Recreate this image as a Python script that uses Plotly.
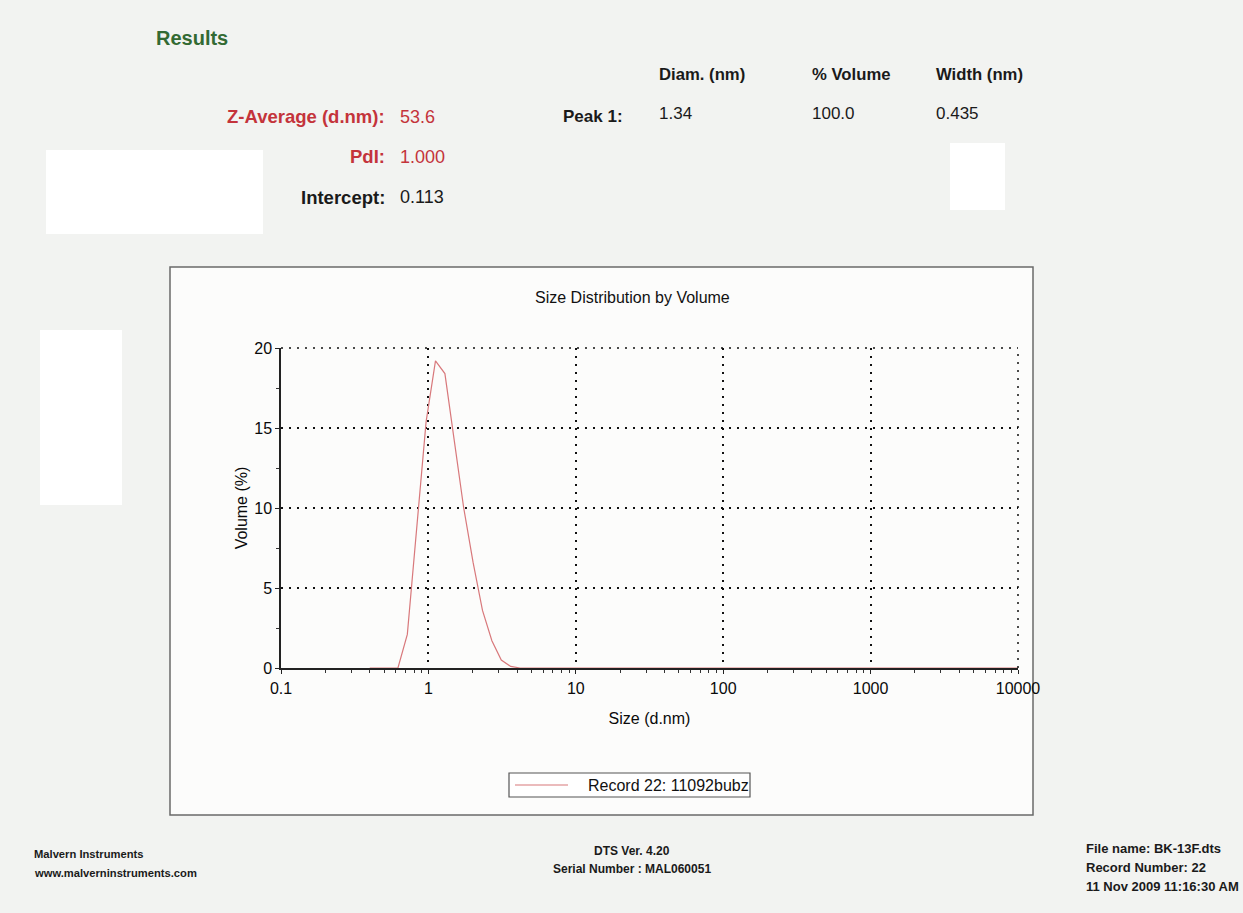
import plotly.graph_objects as go

# ---- measurement data -------------------------------------------------------
size_nm = [0.4, 0.4632, 0.5365, 0.6213, 0.7195, 0.8332, 0.9649, 1.117, 1.294, 1.499,
           1.736, 2.01, 2.328, 2.696, 3.122, 3.615, 4.187, 4.849, 5.615, 6.503,
           7.531, 8.721, 10.1, 11.7, 13.54, 15.69, 18.17, 21.04, 24.36, 28.21,
           32.67, 37.84, 43.82, 50.75, 58.77, 68.06, 78.82, 91.28, 105.7, 122.4,
           141.8, 164.2, 190.1, 220.2, 255.0, 295.3, 342.0, 396.1, 458.7, 531.2,
           615.1, 712.4, 825.0, 955.4, 1106, 1281, 1484, 1718, 1990, 2305,
           2669, 3091, 3580, 4145, 4801, 5560, 6439, 7456, 8635, 10000]
volume_pct = [0, 0, 0, 0, 2.1, 8.8, 15.4, 19.2, 18.4, 14.2,
              10.0, 6.6, 3.6, 1.7, 0.5, 0.1, 0, 0, 0, 0,
              0, 0, 0, 0, 0, 0, 0, 0, 0, 0,
              0, 0, 0, 0, 0, 0, 0, 0, 0, 0,
              0, 0, 0, 0, 0, 0, 0, 0, 0, 0,
              0, 0, 0, 0, 0, 0, 0, 0, 0, 0,
              0, 0, 0, 0, 0, 0, 0, 0, 0, 0]
record_name = "Record 22: 11092bubz"

x_tick_vals = [0.1, 1, 10, 100, 1000, 10000]
x_tick_text = ["0.1", "1", "10", "100", "1000", "10000"]
x_minor_vals = [m * d for d in [0.1, 1, 10, 100, 1000] for m in range(2, 10)]
y_tick_vals = [0, 5, 10, 15, 20]

# header results
result_labels = ["Z-Average (d.nm):", "PdI:", "Intercept:"]
result_values = ["53.6", "1.000", "0.113"]
result_colors = ["#c4333b", "#c4333b", "#1a1a1a"]
peak_headers = ["Diam. (nm)", "% Volume", "Width (nm)"]
peak_row_label = "Peak 1:"
peak_values = ["1.34", "100.0", "0.435"]

footer_left = ["Malvern Instruments", "www.malverninstruments.com"]
footer_mid = ["DTS Ver. 4.20", "Serial Number : MAL060051"]
footer_right = ["File name: BK-13F.dts", "Record Number: 22", "11 Nov 2009 11:16:30 AM"]

# ---- page geometry (pixels) -------------------------------------------------
W, H = 1243, 913
FONT = "Liberation Sans, Arial, sans-serif"
CURVE_COLOR = "#d8787b"


def fx(px):
    return px / W


def fy(py):
    return 1 - py / H


fig = go.Figure()
fig.add_trace(go.Scatter(
    x=size_nm, y=volume_pct, mode="lines", name=record_name,
    line=dict(color=CURVE_COLOR, width=1.2), showlegend=False,
))

ann = []


def text(px, py, s, size=16, color="#1a1a1a", bold=False, xanchor="left"):
    ann.append(dict(
        x=fx(px), y=fy(py), xref="paper", yref="paper", showarrow=False,
        text=f"<b>{s}</b>" if bold else s, xanchor=xanchor, yanchor="middle",
        font=dict(family=FONT, size=size, color=color), borderpad=0,
    ))


text(155, 38, "Results", size=20, color="#336a33", bold=True)
for i, (lab, val, col) in enumerate(zip(result_labels, result_values, result_colors)):
    yy = 117 + 40 * i
    text(386, yy, lab, size=18.5, color=col, bold=True, xanchor="right")
    text(399, yy, val, size=18, color=col)

for hx, h in zip([658, 811, 935], peak_headers):
    text(hx, 75, h, size=16.7, bold=True)
text(562, 116, peak_row_label, size=17, bold=True)
for vx, v in zip([658, 811, 935], peak_values):
    text(vx, 113, v, size=17)

text(632, 297, "Size Distribution by Volume", size=16, color="#111111", xanchor="center")

for i, s in enumerate(footer_left):
    text(33, 854 + 19 * i, s, size=11.2, bold=True)
for i, s in enumerate(footer_mid):
    text(632, 851 + 18 * i, s, size=12, bold=True, xanchor="center")
for i, s in enumerate(footer_right):
    text(1085, 848 + 19 * i, s, size=13, bold=True)

# legend box for the record
text(587, 785, record_name, size=16, color="#111111")

grid_dash = "2px,6px"
shapes = [
    # chart frame
    dict(type="rect", xref="paper", yref="paper", x0=fx(170), x1=fx(1033), y0=fy(815), y1=fy(267),
         line=dict(color="#6a6a6a", width=1.5), fillcolor="#fcfcfb", layer="below"),
    # blank patches on the page
    dict(type="rect", xref="paper", yref="paper", x0=fx(46), x1=fx(263), y0=fy(234), y1=fy(150),
         line=dict(width=0), fillcolor="#ffffff", layer="below"),
    dict(type="rect", xref="paper", yref="paper", x0=fx(40), x1=fx(122), y0=fy(505), y1=fy(330),
         line=dict(width=0), fillcolor="#ffffff", layer="below"),
    dict(type="rect", xref="paper", yref="paper", x0=fx(950), x1=fx(1005), y0=fy(210), y1=fy(143),
         line=dict(width=0), fillcolor="#ffffff", layer="below"),
    # dotted grid closing the top and right edges of the plot area
    dict(type="line", xref="x domain", yref="y domain", x0=0, x1=1, y0=1, y1=1,
         line=dict(color="#111111", width=1.5, dash=grid_dash)),
    dict(type="line", xref="x domain", yref="y domain", x0=1, x1=1, y0=0, y1=1,
         line=dict(color="#111111", width=1.5, dash=grid_dash)),
    # legend frame and sample line
    dict(type="rect", xref="paper", yref="paper", x0=fx(509), x1=fx(750), y0=fy(797), y1=fy(773),
         line=dict(color="#555555", width=1.2), fillcolor="#ffffff", layer="below"),
    dict(type="line", xref="paper", yref="paper", x0=fx(515), x1=fx(568), y0=fy(785), y1=fy(785),
         line=dict(color=CURVE_COLOR, width=1.2)),
]

fig.update_layout(
    width=W, height=H,
    margin=dict(l=0, r=0, t=0, b=0, pad=0, autoexpand=False),
    paper_bgcolor="#f2f3f1",
    plot_bgcolor="rgba(0,0,0,0)",
    font=dict(family=FONT, size=16, color="#111111"),
    annotations=ann,
    shapes=shapes,
    showlegend=False,
    xaxis=dict(
        type="log", range=[-1, 4], domain=[fx(281), fx(1018)],
        automargin=False,
        tickvals=x_tick_vals, ticktext=x_tick_text,
        tickfont=dict(size=16, color="#0a0a0a"),
        showline=True, linecolor="#222222", linewidth=1.5,
        ticks="outside", ticklen=4, tickcolor="#222222",
        ticklabelstandoff=1,
        minor=dict(tickvals=x_minor_vals, ticks="outside", ticklen=3, tickcolor="#333333", showgrid=False),
        showgrid=True, gridcolor="#111111", gridwidth=1.5, griddash=grid_dash,
        zeroline=False,
        title=dict(text="Size (d.nm)", standoff=17, font=dict(size=16, color="#0a0a0a")),
    ),
    yaxis=dict(
        range=[0, 20], domain=[fy(668), fy(348)],
        automargin=False,
        tickvals=y_tick_vals,
        tickfont=dict(size=16, color="#0a0a0a"),
        showline=True, linecolor="#222222", linewidth=1.5,
        ticks="outside", ticklen=4, tickcolor="#222222",
        minor=dict(dtick=2.5, ticks="outside", ticklen=3, tickcolor="#333333", showgrid=False),
        showgrid=True, gridcolor="#111111", gridwidth=1.5, griddash=grid_dash,
        zeroline=False,
        title=dict(text="Volume (%)", standoff=3, font=dict(size=16, color="#0a0a0a")),
    ),
)

fig.write_html("out.html")
